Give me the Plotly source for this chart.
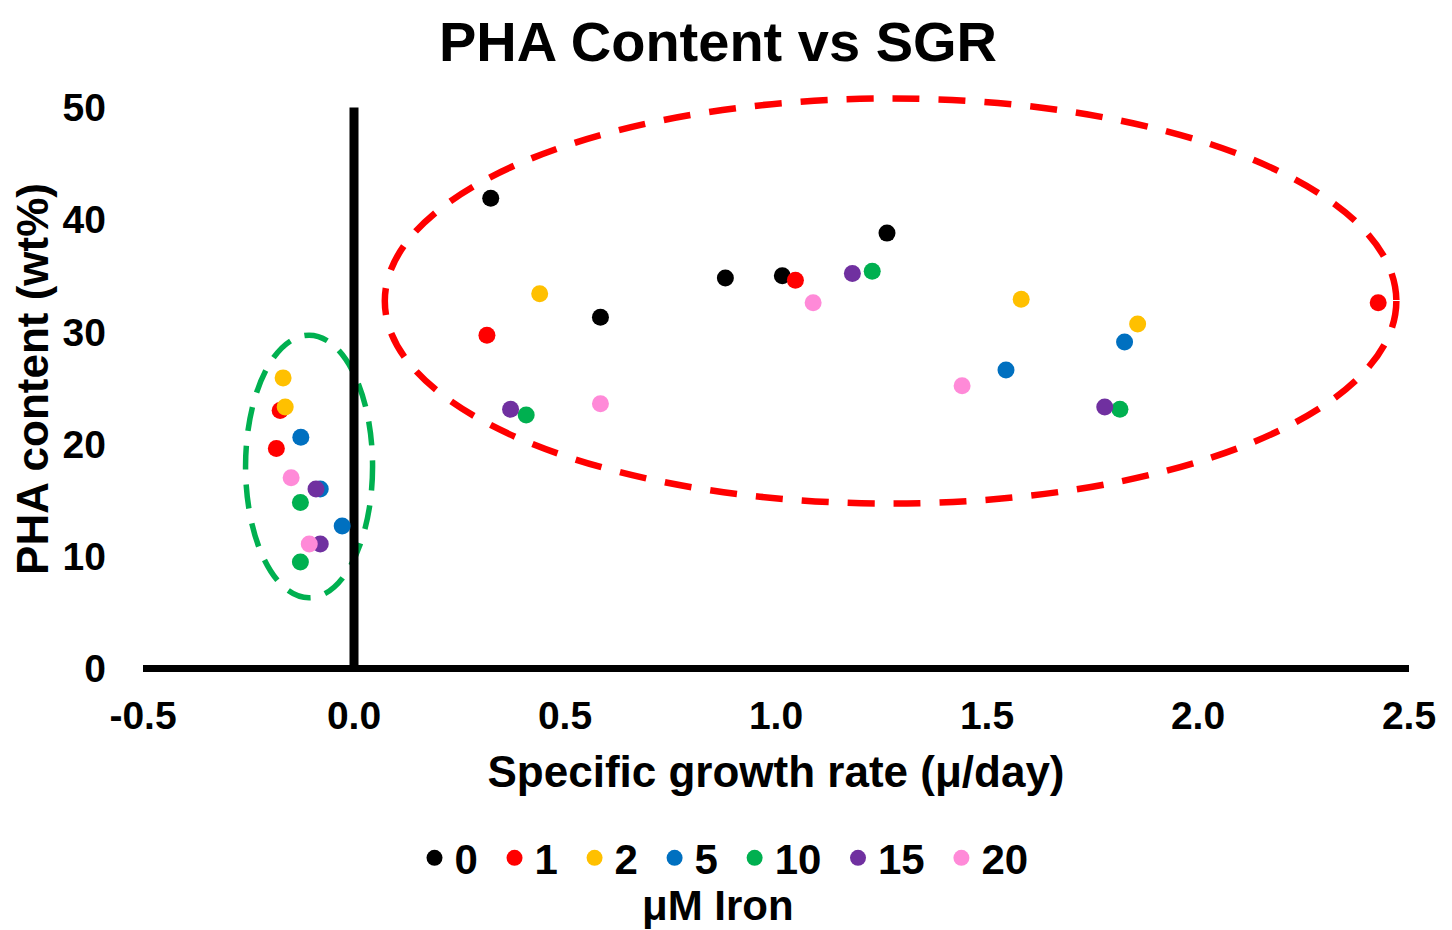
import plotly.graph_objects as go

groups = ["0", "1", "2", "5", "10", "15", "20"]
colors = ["#000000", "#FF0000", "#FFC000", "#0070C0", "#00B050", "#7030A0", "#FF8AD8"]

sgr_0 = [0.324, 0.584, 0.880, 1.015, 1.263]
pha_0 = [41.9, 31.3, 34.8, 35.0, 38.8]
sgr_1 = [-0.175, -0.184, 0.315, 1.046, 2.427]
pha_1 = [23.0, 19.6, 29.7, 34.6, 32.6]
sgr_2 = [-0.168, -0.163, 0.440, 1.581, 1.857]
pha_2 = [25.9, 23.3, 33.4, 32.9, 30.7]
sgr_5 = [-0.126, -0.080, -0.028, 1.545, 1.826]
pha_5 = [20.6, 16.0, 12.7, 26.6, 29.1]
sgr_10 = [-0.127, -0.127, 0.408, 1.228, 1.815]
pha_10 = [14.8, 9.5, 22.6, 35.4, 23.1]
sgr_15 = [-0.090, -0.080, 0.371, 1.181, 1.779]
pha_15 = [16.0, 11.1, 23.1, 35.2, 23.3]
sgr_20 = [-0.149, -0.106, 0.584, 1.088, 1.441]
pha_20 = [17.0, 11.1, 23.6, 32.6, 25.2]

sgr = [sgr_0, sgr_1, sgr_2, sgr_5, sgr_10, sgr_15, sgr_20]
pha = [pha_0, pha_1, pha_2, pha_5, pha_10, pha_15, pha_20]

x_ticks = [-0.5, 0.0, 0.5, 1.0, 1.5, 2.0, 2.5]
y_ticks = [0, 10, 20, 30, 40, 50]

font_family = "Liberation Sans, Arial, sans-serif"

fig = go.Figure()
for g, c, xs, ys in zip(groups, colors, sgr, pha):
    fig.add_trace(go.Scatter(
        x=xs, y=ys, mode="markers", name=g + "\u00a0",
        marker=dict(color=c, size=17, line=dict(width=0)),
    ))

# Ellipses
fig.add_shape(type="circle", xref="x", yref="y", x0=0.073, x1=2.47, y0=14.7, y1=50.8,
              line=dict(color="#FF0000", width=6.5, dash="27px,19px"), layer="below")
fig.add_shape(type="circle", xref="x", yref="y", x0=-0.257, x1=0.044, y0=6.3, y1=29.7,
              line=dict(color="#00B050", width=5.5, dash="24px,15px"), layer="below")
# axis lines
fig.add_shape(type="line", xref="x", yref="y", x0=0, x1=0, y0=0, y1=50,
              line=dict(color="black", width=9), layer="below")
fig.add_shape(type="line", xref="x", yref="y", x0=-0.5, x1=2.5, y0=0, y1=0,
              line=dict(color="black", width=7), layer="below")

fig.update_layout(
    width=1444, height=922,
    margin=dict(l=135, r=43, t=77, b=257),
    paper_bgcolor="white", plot_bgcolor="white",
    font=dict(family=font_family, color="black"),
    title=dict(text="<b>PHA Content vs SGR</b>", x=0.4917, xref="container", xanchor="center",
               y=1 - 33 / 922, yref="container", yanchor="middle",
               font=dict(size=56, family=font_family, color="black")),
    showlegend=True,
    legend=dict(orientation="h", x=0.5, xanchor="center", xref="container",
                y=1 - 850 / 922, yanchor="middle", yref="container",
                font=dict(size=42, family=font_family, color="black", weight="bold"),
                itemwidth=30, tracegroupgap=0),
    annotations=[dict(text="<b>μM Iron</b>", x=0.454, xref="paper", xanchor="center",
                      y=-0.396, yref="paper", yanchor="middle", showarrow=False,
                      font=dict(size=42, family=font_family, color="black"))],
)

fig.update_xaxes(
    range=[-0.5, 2.5], tickvals=x_ticks, ticktext=[f"{v:.1f}" for v in x_ticks],
    showgrid=False, zeroline=False, showline=False,
    ticks="", ticklabelstandoff=16,
    tickfont=dict(size=39, family=font_family, color="black", weight="bold"),
    title=dict(text="<b>Specific growth rate (μ/day)</b>", standoff=20,
               font=dict(size=44, family=font_family, color="black")),
)
fig.update_yaxes(
    range=[-0.4, 52], tickvals=y_ticks, ticktext=[str(v) for v in y_ticks],
    showgrid=False, zeroline=False, showline=False,
    ticks="", ticklabelstandoff=36,
    tickfont=dict(size=39, family=font_family, color="black", weight="bold"),
    title=dict(text="<b>PHA content (wt%)</b>", standoff=10,
               font=dict(size=44, family=font_family, color="black")),
)

fig.write_html("out.html")
